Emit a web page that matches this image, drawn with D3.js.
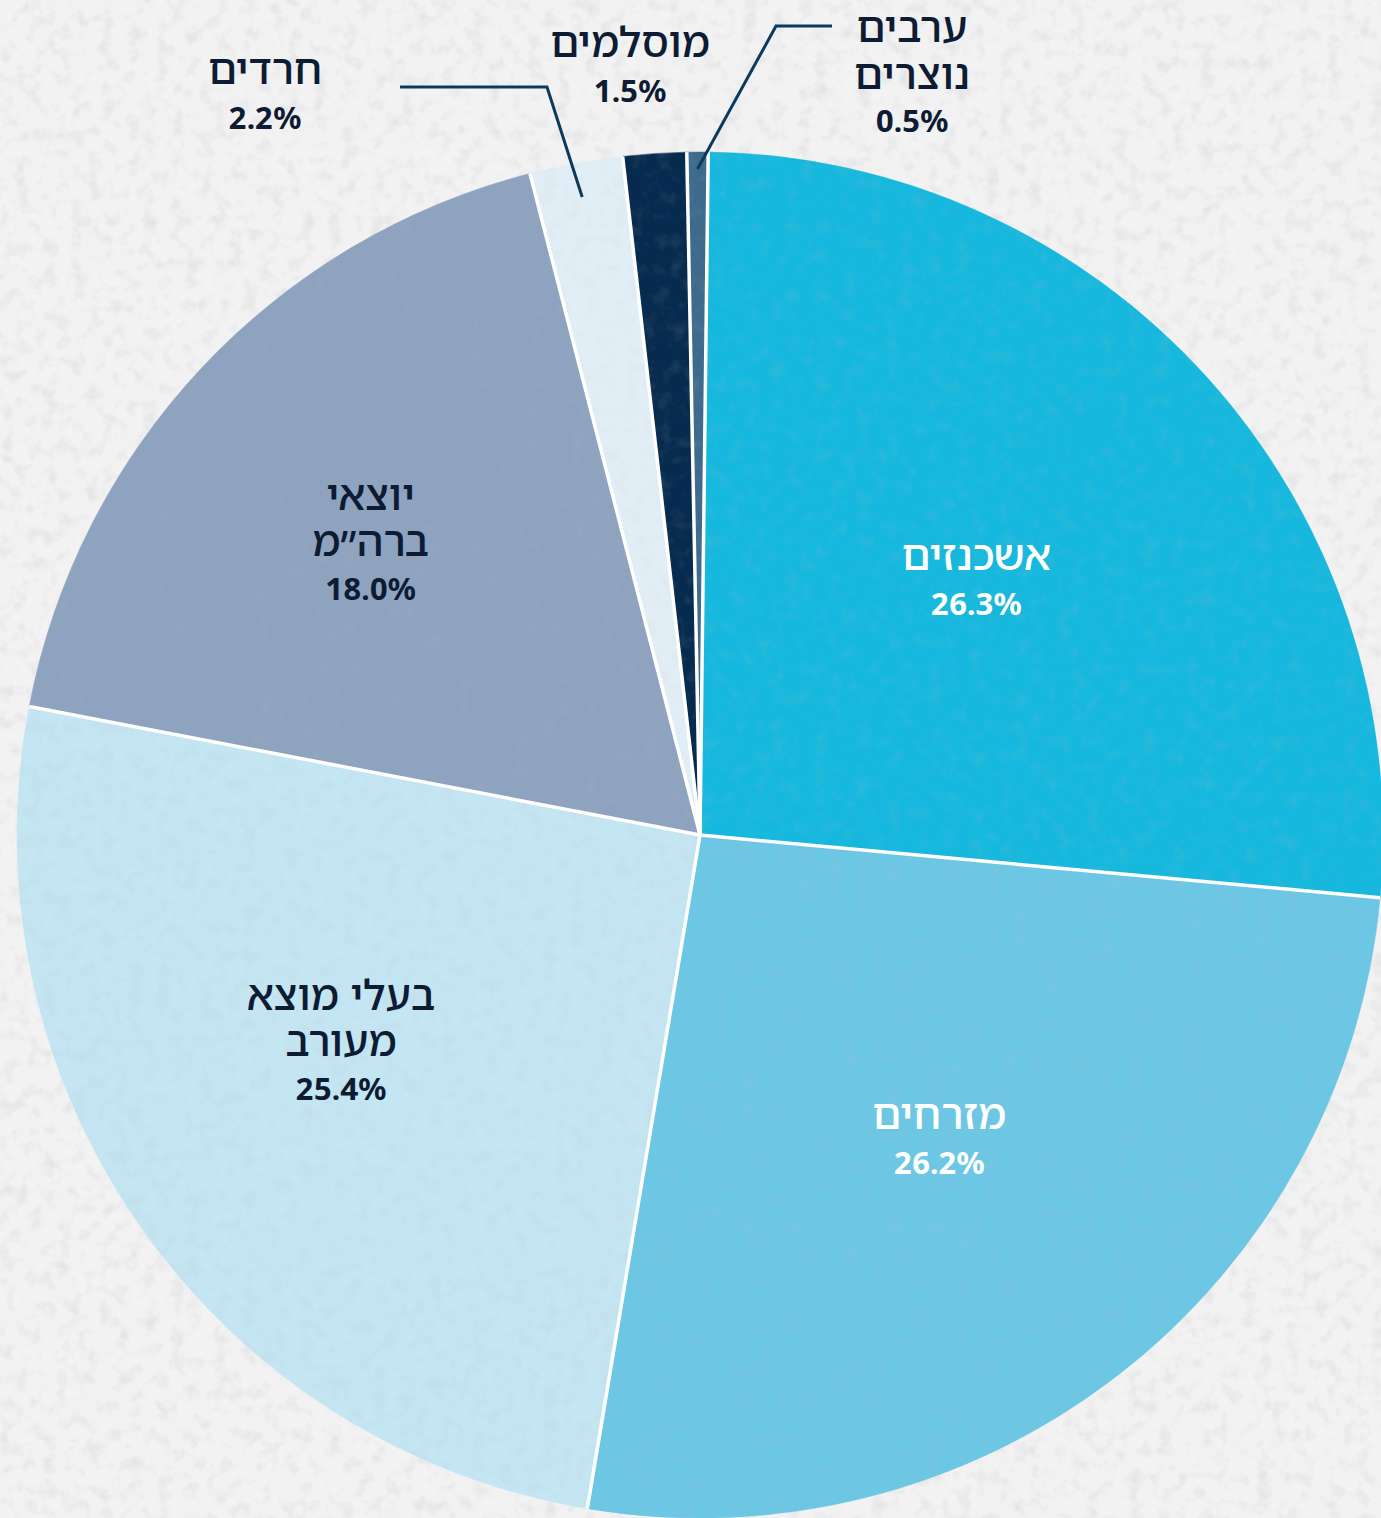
<!DOCTYPE html>
<meta charset="utf-8">
<style>
body { margin: 0; background: #f1f1f2; }
svg { display: block; }
text { font-family: "Noto Sans Hebrew", "Liberation Sans", "Noto Sans", sans-serif; }
</style>
<svg width="1381" height="1518"></svg>
<script src="https://cdn.jsdelivr.net/npm/d3@7"></script>
<script>

// data, clockwise from top
var groups = ["אשכנזים", "מזרחים", "בעלי מוצא מעורב", "יוצאי ברה״מ", "חרדים", "מוסלמים", "ערבים נוצרים"];
var shares = [26.3, 26.2, 25.4, 18.0, 2.2, 1.5, 0.5];
var labelLines = [["אשכנזים"], ["מזרחים"], ["בעלי מוצא", "מעורב"], ["יוצאי", "ברה״מ"], ["חרדים"], ["מוסלמים"], ["ערבים", "נוצרים"]];
var colors = ["#17b8de", "#6cc7e5", "#c4e5f2", "#8ea3bf", "#e2eef6", "#072b4e", "#3d6a8d"];

var svg = d3.select("svg"),
    cx = 700, cy = 835, r = 683;

// paper texture
var defs = svg.append("defs");
var f = defs.append("filter").attr("id", "paper").attr("x", 0).attr("y", 0).attr("width", "100%").attr("height", "100%");
f.append("feTurbulence").attr("type", "fractalNoise").attr("baseFrequency", 0.07).attr("numOctaves", 3).attr("seed", 4).attr("result", "n");
f.append("feColorMatrix").attr("in", "n").attr("type", "matrix")
  .attr("values", "0 0 0 0 0.5  0 0 0 0 0.5  0 0 0 0 0.52  0 0 0 2.4 -1.15");

svg.append("rect").attr("width", 1381).attr("height", 1518).attr("fill", "#f2f2f3");
svg.append("rect").attr("width", 1381).attr("height", 1518).attr("filter", "url(#paper)").attr("opacity", 0.25);

var data = groups.map(function(g, i) {
  return {name: g, value: shares[i], lines: labelLines[i], color: colors[i]};
});

var off = 0.012;
var pie = d3.pie().sort(null).value(function(d) { return d.value; })
    .startAngle(off).endAngle(2 * Math.PI + off);
var arc = d3.arc().innerRadius(0).outerRadius(r);

var g = svg.append("g").attr("transform", "translate(" + cx + "," + cy + ")");
var arcs = pie(data);

g.selectAll("path.slice")
  .data(arcs)
  .enter().append("path")
    .attr("class", "slice")
    .attr("d", arc)
    .attr("fill", function(d) { return d.data.color; })
    .attr("stroke", function(d) { return d.data.color; })
    .attr("stroke-width", 0.5);

// subtle texture on the pie too
var clip = defs.append("clipPath").attr("id", "pieclip");
clip.append("circle").attr("r", r);
g.append("rect").attr("x", -r).attr("y", -r).attr("width", 2 * r).attr("height", 2 * r)
  .attr("clip-path", "url(#pieclip)").attr("filter", "url(#paper)").attr("opacity", 0.12);

// white separators between slices
g.selectAll("line.sep")
  .data(arcs)
  .enter().append("line")
    .attr("class", "sep")
    .attr("x1", 0).attr("y1", 0)
    .attr("x2", function(d) { return Math.sin(d.startAngle) * r; })
    .attr("y2", function(d) { return -Math.cos(d.startAngle) * r; })
    .attr("stroke", "#ffffff")
    .attr("stroke-width", 3.5);

// inside labels: position along the slice (radius, angle tweak in degrees)
var inPos = {
  "אשכנזים": {r: 372, da: 0},
  "מזרחים": {r: 392, da: 0},
  "בעלי מוצא מעורב": {r: 418, da: 4},
  "יוצאי ברה״מ": {r: 436, da: -2.3}
};

arcs.filter(function(d) { return inPos[d.data.name]; }).forEach(function(d) {
  var p = inPos[d.data.name],
      a = (d.startAngle + d.endAngle) / 2 + p.da * Math.PI / 180,
      x = Math.sin(a) * p.r,
      y = -Math.cos(a) * p.r;
  var fill = d.index < 2 ? "#ffffff" : "#0d1b33";
  var n = d.data.lines.length;
  var t = g.append("text").attr("text-anchor", "middle").attr("fill", fill);
  var top = y - n * 45 / 2 + 6;
  d.data.lines.forEach(function(l, i) {
    t.append("tspan").attr("x", x).attr("y", top + i * 46).attr("font-size", 42).attr("font-weight", 500).text(l);
  });
  t.append("tspan").attr("x", x).attr("y", top + n * 45).attr("font-size", 31).attr("font-weight", "bold")
    .attr("direction", "ltr").text(d3.format(".1f")(d.data.value) + "%");
});

// outside labels with leader lines
var outPos = {
  "חרדים": {x: 265, y: 84, line: [[400, 87], [547, 87]]},
  "מוסלמים": {x: 630, y: 57, line: null},
  "ערבים נוצרים": {x: 912, y: 42, line: [[832, 26], [776, 26]]}
};

arcs.filter(function(d) { return outPos[d.data.name]; }).forEach(function(d) {
  var p = outPos[d.data.name];
  var t = svg.append("text").attr("text-anchor", "middle").attr("fill", "#0d1b33");
  var n = d.data.lines.length;
  d.data.lines.forEach(function(l, i) {
    t.append("tspan").attr("x", p.x).attr("y", p.y + i * 47).attr("font-size", 42).attr("font-weight", 500).text(l);
  });
  t.append("tspan").attr("x", p.x).attr("y", p.y + n * 45).attr("font-size", 31).attr("font-weight", "bold")
    .attr("direction", "ltr").text(d3.format(".1f")(d.data.value) + "%");
  if (p.line) {
    var a = (d.startAngle + d.endAngle) / 2,
        rr = d.index === 4 ? 0.95 * r : 0.975 * r;
    var pts = p.line.concat([[cx + Math.sin(a) * rr, cy - Math.cos(a) * rr]]);
    svg.append("path")
      .attr("d", d3.line()(pts))
      .attr("fill", "none")
      .attr("stroke", "#0b3a5e")
      .attr("stroke-width", 3);
  }
});

</script>
